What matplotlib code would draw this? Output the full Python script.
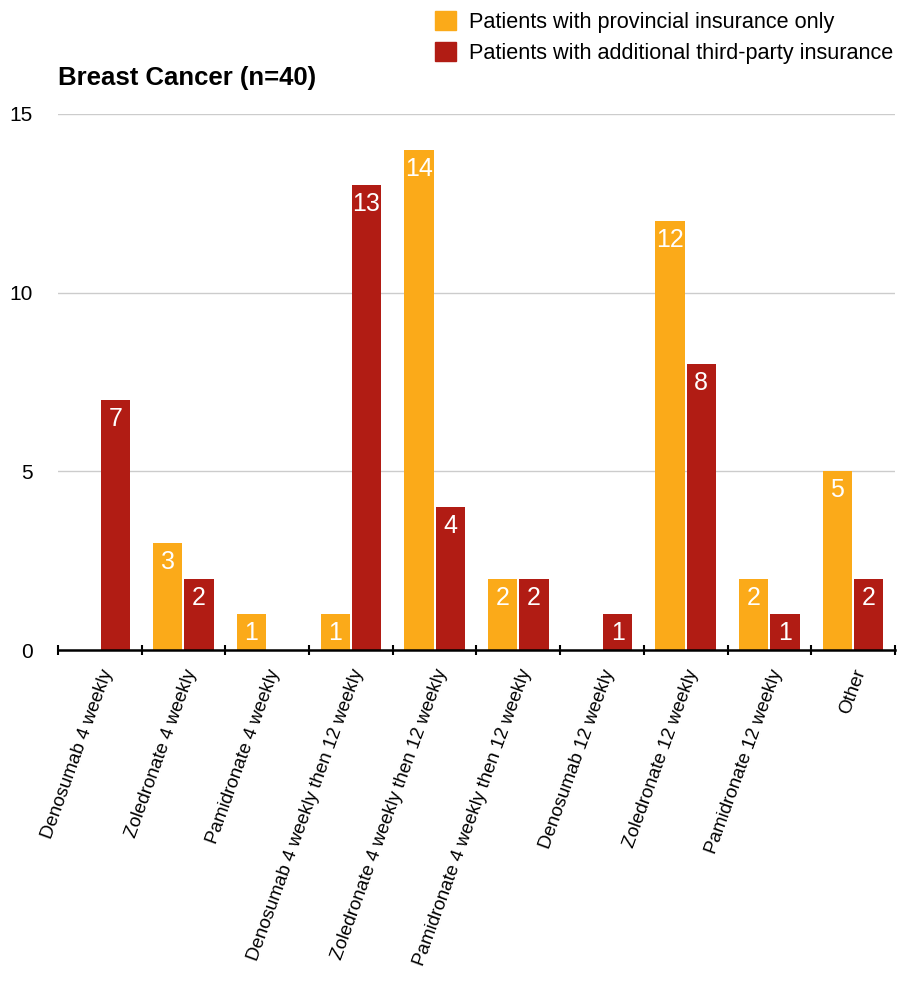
import numpy as np
import matplotlib
matplotlib.use("Agg")
import matplotlib.pyplot as plt
from matplotlib.patches import Patch

plt.rcParams["font.family"] = ["Liberation Sans", "DejaVu Sans"]

categories = [
    "Denosumab 4 weekly",
    "Zoledronate 4 weekly",
    "Pamidronate 4 weekly",
    "Denosumab 4 weekly then 12 weekly",
    "Zoledronate 4 weekly then 12 weekly",
    "Pamidronate 4 weekly then 12 weekly",
    "Denosumab 12 weekly",
    "Zoledronate 12 weekly",
    "Pamidronate 12 weekly",
    "Other",
]
provincial = [0, 3, 1, 1, 14, 2, 0, 12, 2, 5]
third_party = [7, 2, 0, 13, 4, 2, 1, 8, 1, 2]
series_names = [
    "Patients with provincial insurance only",
    "Patients with additional third-party insurance",
]
colors = ["#FBAA19", "#B11C14"]

fig = plt.figure(figsize=(9.04, 9.82), dpi=100)
ax = fig.add_axes([0.064, 0.338, 0.926, 0.546])

x = np.arange(len(categories))
w = 0.35
gap = 0.012
bars_a = ax.bar(x - w / 2 - gap, provincial, w, color=colors[0], zorder=3)
bars_b = ax.bar(x + w / 2 + gap, third_party, w, color=colors[1], zorder=3)

# white value labels just inside the top of each bar
for bars, vals in [(bars_a, provincial), (bars_b, third_party)]:
    for b, v in zip(bars, vals):
        if v <= 0:
            continue
        ax.annotate(str(v), (b.get_x() + b.get_width() / 2, v),
                    xytext=(0, -19), textcoords="offset pixels",
                    ha="center", va="center", color="white",
                    fontsize=18, zorder=4)

ax.set_xlim(-0.5, len(categories) - 0.5)
ax.set_ylim(0, 15)
ax.set_yticks([0, 5, 10, 15])
ax.tick_params(axis="y", length=0, labelsize=15, pad=18)
ax.yaxis.grid(True, color="#cccccc", linewidth=1)
ax.set_axisbelow(True)

ax.set_xticks(x)
ax.set_xticklabels(categories, rotation=70, ha="right", rotation_mode="anchor", fontsize=13.5)
ax.set_xticks(np.arange(-0.5, len(categories)), minor=True)
ax.tick_params(axis="x", which="major", length=0, pad=12)
ax.tick_params(axis="x", which="minor", length=7, width=1.5, direction="inout", color="black")

for s in ["top", "right", "left"]:
    ax.spines[s].set_visible(False)
ax.spines["bottom"].set_linewidth(1.8)
ax.spines["bottom"].set_zorder(5)

fig.text(0.064, 0.921, "Breast Cancer (n=40)", fontsize=18.5, fontweight="bold", va="center")

handles = [Patch(color=c) for c in colors]
fig.legend(handles, series_names, loc="upper left", bbox_to_anchor=(435 / 904, 1 - 11 / 982),
           frameon=False, fontsize=15.6, handlelength=0.95, handleheight=1.0,
           handletextpad=0.6, labelspacing=0.4, borderpad=0, borderaxespad=0)

fig.savefig("out.png", dpi=100)
